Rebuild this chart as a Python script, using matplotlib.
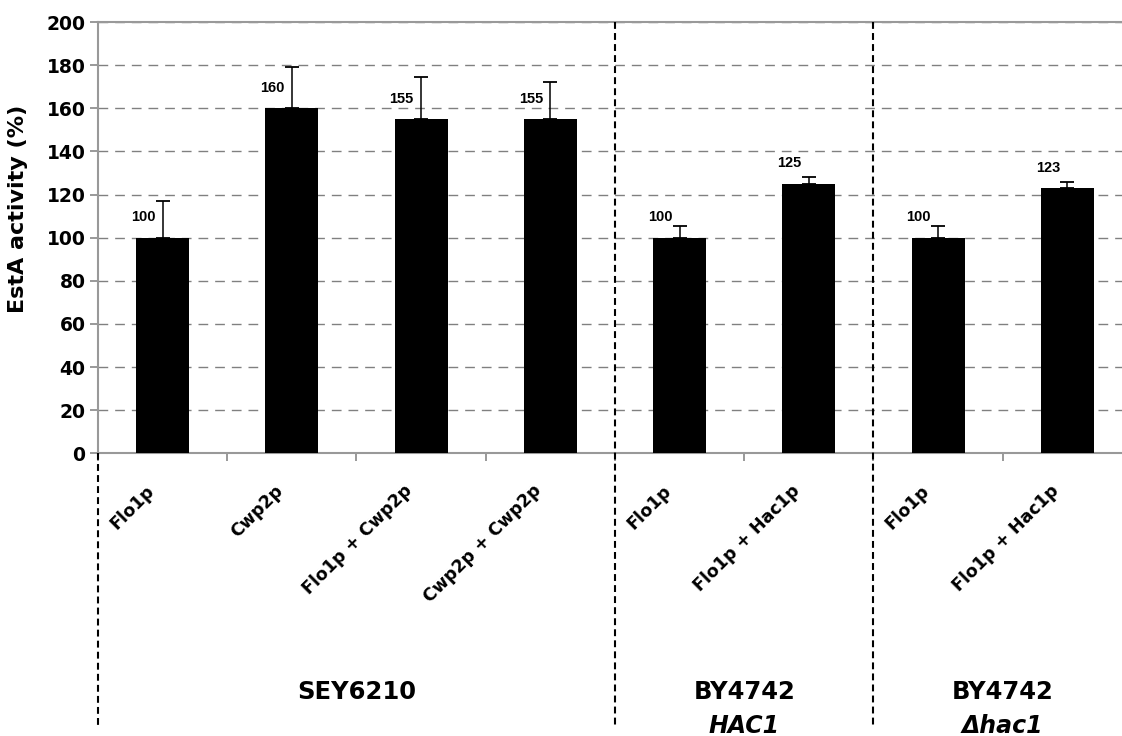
import matplotlib.pyplot as plt
import matplotlib.transforms as mtransforms
import numpy as np

# EstA activity per construct, relative to Flo1p (%)
constructs = ["Flo1p", "Cwp2p", "Flo1p + Cwp2p", "Cwp2p + Cwp2p",
              "Flo1p", "Flo1p + Hac1p",
              "Flo1p", "Flo1p + Hac1p"]
activity = [100, 160, 155, 155, 100, 125, 100, 123]
err_up = [17, 19, 19.5, 17, 5.5, 3, 5.5, 3]

# strain groups: (first bar, number of bars, name, genotype)
strains = [(0, 4, "SEY6210", ""),
           (4, 2, "BY4742", "HAC1"),
           (6, 2, "BY4742", "\u0394hac1")]

W, H = 1122, 736
fig = plt.figure(figsize=(W / 100, H / 100), dpi=100)
ax = fig.add_axes([98 / W, 1 - 453.3 / H, 1034 / W, 431.3 / H])

x = np.arange(len(activity)) + 0.5
ax.bar(x, activity, width=0.41, color="black", zorder=3)
ax.errorbar(x, activity, yerr=[np.zeros(len(err_up)), err_up], fmt="none",
            ecolor="black", elinewidth=1.1, capsize=5, capthick=1.3, zorder=4)

for xi, v in zip(x, activity):
    ax.text(xi - 0.15, v + 9.5, str(v), ha="center", va="center",
            fontsize=10.5, fontweight="bold", family="Liberation Sans", zorder=5)

ax.set_xlim(0, 8)
ax.set_ylim(0, 200)
ax.set_yticks(np.arange(0, 201, 20))
ax.set_xticks(np.arange(0, 9))
ax.set_xticklabels([])
ax.tick_params(axis="y", length=6, width=1.2, color="#888888", labelsize=13.5, pad=3)
ax.tick_params(axis="x", length=6, width=1.2, color="#888888")
for lab in ax.get_yticklabels():
    lab.set_fontweight("bold")
ax.set_ylabel("EstA activity (%)", fontsize=16, fontweight="bold", labelpad=9)
ax.yaxis.set_label_coords(-0.068, 0.566)

for side in ["top", "left", "bottom"]:
    ax.spines[side].set_color("#999999")
    ax.spines[side].set_linewidth(1.5)
ax.spines["right"].set_visible(False)

ax.grid(axis="y", color="#808080", linewidth=1.0, linestyle=(0, (7, 5)), zorder=1)
ax.set_axisbelow(True)

# dashed lines that split the strains, running down through the labels
y_bottom = (453.3 - 725) / 2.1565
for start, n, _, _ in strains:
    top = 0 if start == 0 else 200
    ln, = ax.plot([start, start], [top, y_bottom], color="black", lw=1.5,
                  clip_on=False, zorder=6)
    ln.set_dashes((3.3, 2))

# rotated construct names
trans = mtransforms.blended_transform_factory(ax.transData, fig.transFigure)
for xi, name in zip(x, constructs):
    ax.text(xi - 0.09, 1 - 488 / H, name, transform=trans, rotation=45,
            rotation_mode="anchor", ha="right", va="center",
            fontsize=12.5, fontweight="bold")

# strain names under the constructs
for start, n, name, geno in strains:
    xc = start + n / 2
    ax.text(xc, 1 - 692 / H, name, transform=trans, ha="center", va="center",
            fontsize=17.5, fontweight="bold")
    if geno:
        ax.text(xc, 1 - 733 / H, geno, transform=trans, ha="center",
                va="baseline", fontsize=17, fontweight="bold", style="italic")

fig.savefig("out.png", dpi=100)
